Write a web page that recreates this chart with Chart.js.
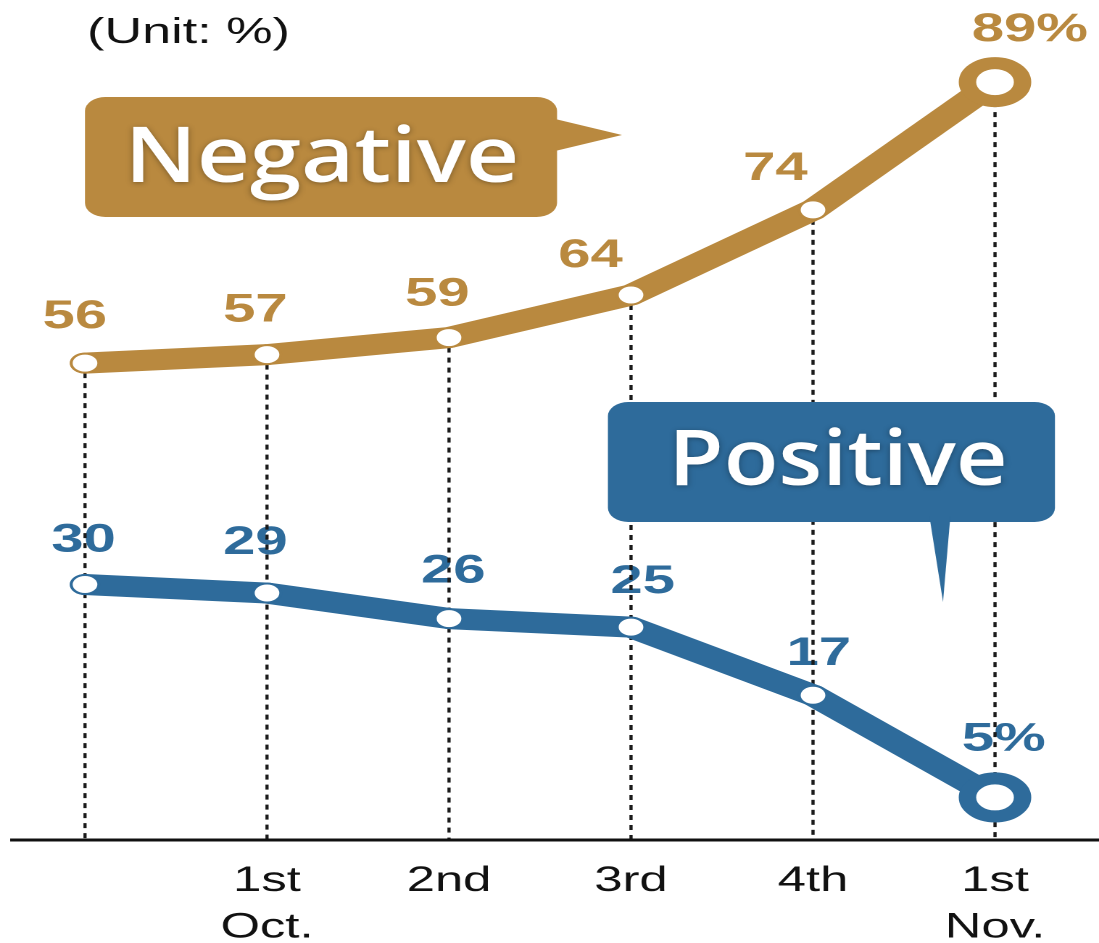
<!DOCTYPE html>
<html>
<head>
<meta charset="utf-8">
<script src="https://cdn.jsdelivr.net/npm/chart.js@4.4.1/dist/chart.umd.min.js"></script>
<style>
  body { margin: 0; background: #fff; }
  /* the reference is stretched sideways, so the canvas is drawn narrow and shown wide */
  #myChart { display: block; width: 1099px !important; height: 943px !important; }
</style>
</head>
<body>
<canvas id="myChart" width="758" height="943"></canvas>
<script>
const labels = ['', ['1st', 'Oct.'], '2nd', '3rd', '4th', ['1st', 'Nov.']];
const negative = [56, 57, 59, 64, 74, 89];
const positive = [30, 29, 26, 25, 17, 5];
const negativeTags = ['56', '57', '59', '64', '74', '89%'];
const positiveTags = ['30', '29', '26', '25', '17', '5%'];

// where each value label sits relative to its point: [dx, rise]
const negShift = [[-7, 35], [-8, 33], [-8, 32], [-28, 28], [-26, 30], [24, 41]];
const posShift = [[-1, 33], [-8, 39], [3, 36], [8, 34], [4, 30], [6, 47]];

const S = 1099 / 758;
const gold = '#B9893F';
const blue = '#2E6B9B';
const sans = '"Liberation Sans", Arial, sans-serif';

function drawTags(ctx, x, y, values, tags, shift, color) {
    ctx.fillStyle = color;
    values.forEach(function (v, i) {
        ctx.fillText(tags[i], x.getPixelForValue(i) + shift[i][0], y.getPixelForValue(v) - shift[i][1]);
    });
}

function bubble(ctx, box, tail, color, text, cx, baseY, textW) {
    ctx.fillStyle = color;
    ctx.beginPath();
    ctx.roundRect(box[0], box[1], box[2], box[3], 14);
    ctx.fill();
    ctx.beginPath();
    ctx.moveTo(tail[0][0], tail[0][1]);
    ctx.lineTo(tail[1][0], tail[1][1]);
    ctx.lineTo(tail[2][0], tail[2][1]);
    ctx.closePath();
    ctx.fill();

    ctx.save();
    ctx.font = '600 77px "Open Sans", sans-serif';
    ctx.textAlign = 'center';
    ctx.textBaseline = 'alphabetic';
    const w = ctx.measureText(text).width;
    ctx.translate(cx, baseY);
    ctx.scale(textW / w, 1);
    ctx.shadowColor = 'rgba(0,0,0,0.35)';
    ctx.shadowBlur = 10;
    ctx.shadowOffsetY = 2;
    ctx.fillStyle = '#fff';
    ctx.fillText(text, 0, 0);
    ctx.restore();
}

const decor = {
    id: 'decor',
    beforeDatasetsDraw(chart) {
        const ctx = chart.ctx;
        const x = chart.scales.x;
        const y = chart.scales.y;
        const base = y.getPixelForValue(0);
        ctx.save();

        ctx.fillStyle = '#111';
        ctx.font = '36px ' + sans;
        ctx.textAlign = 'left';
        ctx.textBaseline = 'alphabetic';
        ctx.fillText('(Unit: %)', 60, 43);

        ctx.font = 'bold 40px ' + sans;
        ctx.textAlign = 'center';
        drawTags(ctx, x, y, negative, negativeTags, negShift, gold);
        drawTags(ctx, x, y, positive, positiveTags, posShift, blue);

        ctx.strokeStyle = '#1a1a1a';
        ctx.lineWidth = 2.2;
        ctx.setLineDash([5, 5]);
        negative.forEach(function (v, i) {
            const px = x.getPixelForValue(i);
            ctx.beginPath();
            ctx.moveTo(px, y.getPixelForValue(v));
            ctx.lineTo(px, base);
            ctx.stroke();
        });
        ctx.setLineDash([]);

        ctx.strokeStyle = '#111';
        ctx.lineWidth = 3;
        ctx.beginPath();
        ctx.moveTo(7, base);
        ctx.lineTo(chart.width, base);
        ctx.stroke();

        bubble(ctx, [58.6, 97, 325.6, 120], [[380, 118], [429, 135], [380, 152]], gold, 'Negative', 222, 182, 272);
        bubble(ctx, [419.3, 402, 308.3, 120], [[641, 516], [650.4, 602], [655.5, 516]], blue, 'Positive', 578, 485, 234);

        ctx.restore();
    }
};

new Chart(document.getElementById('myChart'), {
    type: 'line',
    data: {
        labels: labels,
        datasets: [{
            label: 'Negative',
            data: negative,
            borderColor: gold,
            borderWidth: 21,
            borderCapStyle: 'round',
            borderJoinStyle: 'round',
            pointBackgroundColor: '#fff',
            pointBorderColor: gold,
            pointRadius: [9.5, 9.5, 9.5, 9.5, 9.5, 19],
            pointBorderWidth: [2, 2, 2, 2, 2, 12],
            tension: 0,
        }, {
            label: 'Positive',
            data: positive,
            borderColor: blue,
            borderWidth: 21,
            borderCapStyle: 'round',
            borderJoinStyle: 'round',
            pointBackgroundColor: '#fff',
            pointBorderColor: blue,
            pointRadius: [9.5, 9.5, 9.5, 9.5, 9.5, 19],
            pointBorderWidth: [2, 2, 2, 2, 2, 12],
            tension: 0,
        }],
    },
    options: {
        responsive: false,
        devicePixelRatio: 2,
        animation: false,
        layout: {
            padding: { left: 85 / S, right: 758 - 995 / S, top: 5, bottom: 0 },
        },
        scales: {
            x: {
                grid: { display: false },
                border: { display: false },
                ticks: {
                    color: '#111',
                    padding: 10,
                    maxRotation: 0,
                    autoSkip: false,
                    font: { family: sans, size: 35, lineHeight: 1.33 },
                },
                afterFit: function (scale) {
                    scale.height = 103;
                },
            },
            y: {
                display: false,
                min: 0,
                max: 95,
            },
        },
        plugins: {
            legend: { display: false },
            tooltip: { enabled: false },
        },
    },
    plugins: [decor],
});
</script>
</body>
</html>
